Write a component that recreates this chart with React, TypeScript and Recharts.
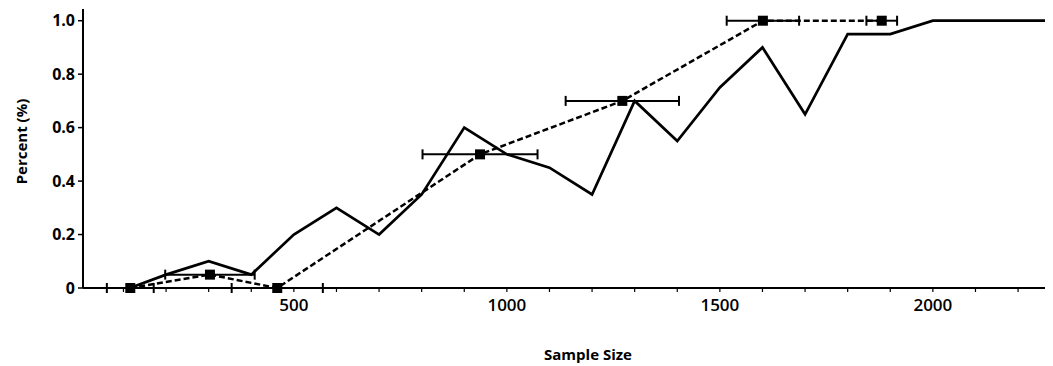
import React from "react";
import {
  ComposedChart,
  Line,
  Scatter,
  ErrorBar,
  XAxis,
  YAxis,
} from "recharts";

// Solid line (observed values)
const solidX = [115, 200, 300, 400, 500, 600, 700, 800, 900, 1000, 1100, 1200, 1300, 1400, 1500, 1600, 1700, 1800, 1900, 2000, 2100, 2200, 2282];
const solidY = [0, 0.05, 0.1, 0.05, 0.2, 0.3, 0.2, 0.35, 0.6, 0.5, 0.45, 0.35, 0.7, 0.55, 0.75, 0.9, 0.65, 0.95, 0.95, 1.0, 1.0, 1.0, 1.0];

// Dashed line with square markers and horizontal error bars
const pointX = [116, 303, 461, 937, 1271, 1601, 1880];
const pointY = [0, 0.05, 0, 0.5, 0.7, 1.0, 1.0];
const pointErr = [55, 105, 107, 135, 133, 85, 36];

const xTicks = [100, 200, 300, 400, 500, 600, 700, 800, 900, 1000, 1100, 1200, 1300, 1400, 1500, 1600, 1700, 1800, 1900, 2000, 2100, 2200];
const xLabelTicks = [500, 1000, 1500, 2000];
const yTicks = [0, 0.2, 0.4, 0.6, 0.8, 1.0];

const solidData = solidX.map((x, i) => ({ x, y: solidY[i] }));
const pointData = pointX.map((x, i) => ({ x, y: pointY[i], err: pointErr[i] }));

const Square = (props: any) => {
  const { cx, cy } = props;
  if (cx == null || cy == null) return null;
  return <rect x={cx - 5} y={cy - 5} width={10} height={10} fill="#000" />;
};

export default function App() {
  return (
    <div style={{ width: 1045, height: 358 }}>
      <ComposedChart
        width={1045}
        height={358}
        margin={{ top: 1, right: 0, bottom: 0, left: 0 }}
      >
        <XAxis
          dataKey="x"
          type="number"
          domain={[5, 2282]}
          ticks={xTicks}
          interval={0}
          tickFormatter={(v: number) => (xLabelTicks.includes(v) ? String(v) : "")}
          height={78}
          tickSize={4}
          tickMargin={7}
          axisLine={{ stroke: "#000", strokeWidth: 2 }}
          tickLine={{ stroke: "#000", strokeWidth: 1.2 }}
          tick={{ fill: "#000", fontSize: 17, fontFamily: "Open Sans", fontWeight: 600 }}
          label={{
            value: "Sample Size",
            position: "insideBottom",
            offset: 6,
            dx: 20,
            style: { fill: "#000", fontSize: 15, fontFamily: "Open Sans", fontWeight: 700 },
          }}
        />
        <YAxis
          type="number"
          domain={[0, 1.0438]}
          ticks={yTicks}
          interval={0}
          width={75}
          tickSize={5}
          tickMargin={3}
          tickFormatter={(v: number) => (v === 0 ? "0" : v.toFixed(1))}
          axisLine={{ stroke: "#000", strokeWidth: 2 }}
          tickLine={{ stroke: "#000", strokeWidth: 1.5 }}
          tick={{ fill: "#000", fontSize: 16, fontFamily: "Open Sans", fontWeight: 700 }}
          label={{
            value: "Percent (%)",
            angle: -90,
            position: "insideLeft",
            offset: 0,
            dx: 14,
            dy: -7,
            style: { fill: "#000", fontSize: 15, fontFamily: "Open Sans", fontWeight: 700, textAnchor: "middle" },
          }}
        />
        <Line
          data={solidData}
          dataKey="y"
          type="linear"
          stroke="#000"
          strokeWidth={2.7}
          strokeLinejoin="miter"
          dot={false}
          activeDot={false}
          isAnimationActive={false}
        />
        <Line
          data={pointData}
          dataKey="y"
          type="linear"
          stroke="#000"
          strokeWidth={2.5}
          strokeDasharray="6 3"
          dot={false}
          activeDot={false}
          isAnimationActive={false}
        />
        <Scatter
          data={pointData}
          dataKey="y"
          shape={Square}
          isAnimationActive={false}
        >
          <ErrorBar
            dataKey="err"
            direction="x"
            width={5}
            stroke="#000"
            strokeWidth={2}
            isAnimationActive={false}
          />
        </Scatter>
      </ComposedChart>
    </div>
  );
}
